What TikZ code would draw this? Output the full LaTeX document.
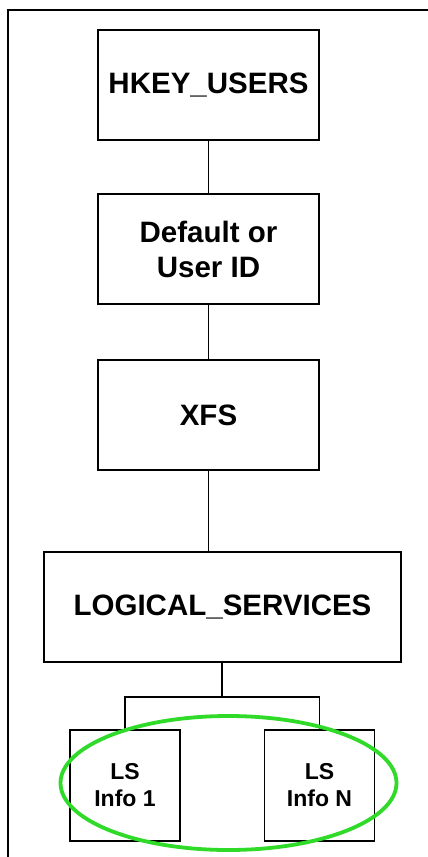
\documentclass[tikz,border=0pt]{standalone}
\usepackage{fontspec}
\setmainfont{Liberation Sans}
\usetikzlibrary{positioning}
\definecolor{hlgreen}{RGB}{48,218,40}

\begin{document}
\begin{tikzpicture}[
  x=1pt, y=-1pt,
  box/.style={rectangle, draw, line width=1.4pt, align=center, inner sep=0pt,
    font=\bfseries\fontsize{29.5}{35}\selectfont},
  keybox/.style={box, minimum width=221pt, minimum height=110pt},
  leafbox/.style={box, minimum width=110pt, minimum height=111pt,
    font=\bfseries\fontsize{23}{27}\selectfont},
  link/.style={line width=1.4pt},
  highlight/.style={draw=hlgreen, line width=3.8pt},
]
\useasboundingbox (0,0) rectangle (428,857);

% === Frame ===
\draw[line width=1.4pt] (8,857) -- (8,10) -- (428,10);

% === Registry keys ===
\node[keybox] (hkey) at (208.5, 85) {HKEY\_USERS};
\node[keybox] (user) at (208.5, 249) {Default or\\User ID};
\node[keybox] (xfs) at (208.5, 415) {XFS};
\node[box, minimum width=357pt, minimum height=110pt] (logical) at (222.5, 607) {LOGICAL\_SERVICES};

\draw[link] (hkey) -- (user);
\draw[link] (user) -- (xfs);
\draw[link] (xfs) -- (xfs |- logical.north);

% === Logical service entries ===
\node[leafbox] (info1) at (125, 785.5) {LS\\Info 1};
\node[leafbox] (infoN) at (319.5, 785.5) {LS\\Info N};

\coordinate (split) at (222, 697);
\draw[link] (logical.south -| split) -- (split);
\draw[link] (info1.north) |- (split) -| (infoN.north);

% === Highlight ===
\draw[highlight] (228.5, 783) ellipse [x radius=168pt, y radius=67pt];

\end{tikzpicture}
\end{document}
